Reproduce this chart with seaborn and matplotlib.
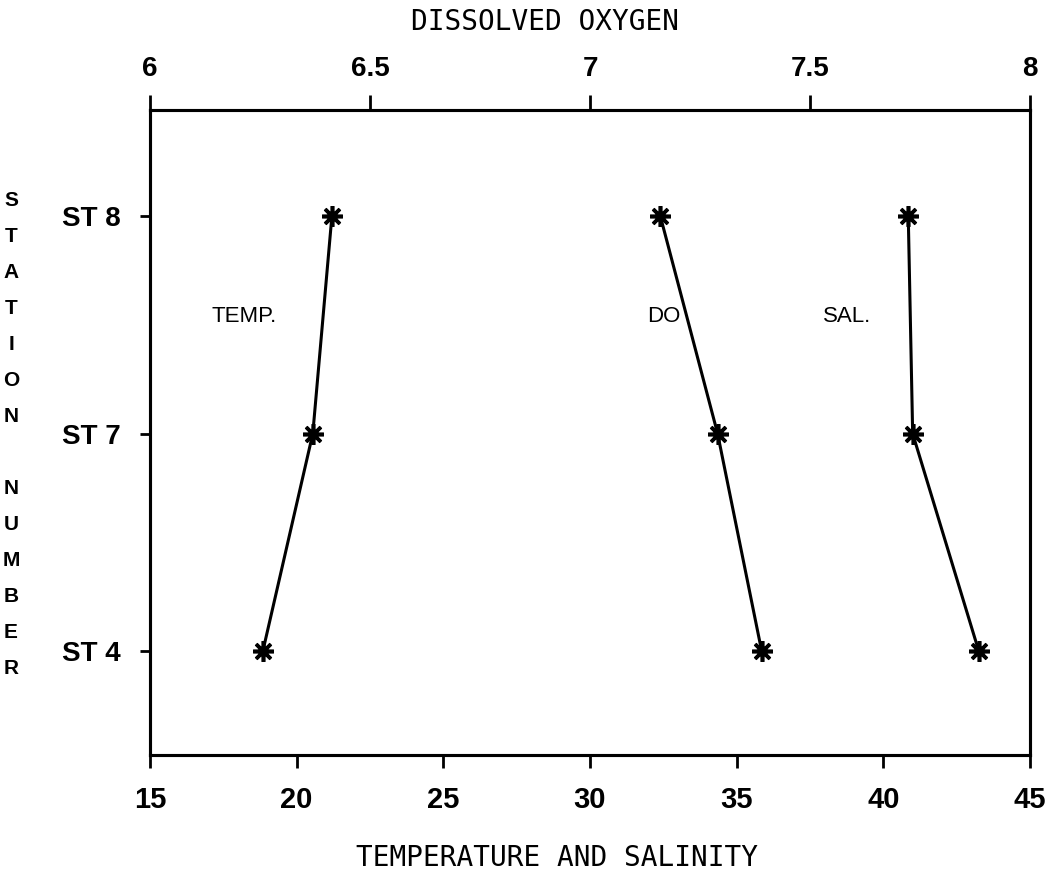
import matplotlib
matplotlib.use("Agg")
import matplotlib.pyplot as plt
import seaborn as sns
import numpy as np

# ---- data ----
stations = ["ST 8", "ST 7", "ST 4"]
temperature = [21.2, 20.55, 18.85]
salinity = [40.85, 41.0, 43.25]
dissolved_oxygen = [7.16, 7.29, 7.39]
bottom_ticks = [15, 20, 25, 30, 35, 40, 45]
top_ticks = [6, 6.5, 7, 7.5, 8]
top_tick_labels = ["6", "6.5", "7", "7.5", "8"]
ylabel_letters = list("STATION") + [""] + list("NUMBER")

sns.set_style("ticks")
plt.rcParams['font.family'] = ['Liberation Sans', 'DejaVu Sans']
plt.rcParams['text.color'] = 'black'
plt.rcParams['xtick.color'] = 'black'
plt.rcParams['ytick.color'] = 'black'
plt.rcParams['axes.labelcolor'] = 'black'

ypos = np.arange(len(stations))

fig = plt.figure(figsize=(10.57, 8.77), dpi=100)
ax = fig.add_axes([150/1057, 122/877, 880/1057, 645/877])

line_kw = dict(color="black", linewidth=2.2, marker=(8, 2, 0), markersize=15,
               markeredgewidth=2.6, markeredgecolor="black", sort=False,
               estimator=None)

sns.lineplot(x=temperature, y=ypos, ax=ax, **line_kw)
sns.lineplot(x=salinity, y=ypos, ax=ax, **line_kw)
ax.set_xlim(15, 45)
ax.set_ylim(2.48, -0.49)

ax2 = ax.twiny()
sns.lineplot(x=dissolved_oxygen, y=ypos, ax=ax2, **line_kw)
ax2.set_xlim(6, 8)
ax2.set_ylim(2.48, -0.49)

tick_font = dict(family=['Liberation Sans Narrow', 'Liberation Sans'], weight='bold', size=20,
                 color='black')

ax.set_xticks(bottom_ticks)
ax.set_xticklabels([str(t) for t in bottom_ticks], fontdict=dict(tick_font, size=21))
ax.set_yticks(ypos)
ax.set_yticklabels(stations, fontdict=tick_font)
ax2.set_xticks(top_ticks)
ax2.set_xticklabels(top_tick_labels, fontdict=tick_font)

ax.tick_params(axis='x', direction='out', length=9, width=2, pad=13, bottom=True, top=False)
ax.tick_params(axis='y', direction='out', length=7, width=2, pad=14, left=True, right=False)
ax2.tick_params(axis='x', direction='out', length=11, width=2, pad=9, top=True, bottom=False)

for a in (ax, ax2):
    a.set_xlabel("")
    a.set_ylabel("")
    for s in a.spines.values():
        s.set_linewidth(2.2)
        s.set_color("black")

# series labels
label_font = dict(family=['Liberation Sans', 'DejaVu Sans'], size=16, va='center', ha='left',
                  color='black')
ax.text(17.1, 0.46, "TEMP.", **label_font)
ax.text(31.95, 0.46, "DO", **label_font)
ax.text(37.95, 0.46, "SAL.", **label_font)

# axis titles
mono = ['DejaVu Sans Mono']
fig.text(545/1057, 1 - 22/877, "DISSOLVED OXYGEN", family=mono, size=20,
         ha='center', va='center', color='black')
fig.text(557/1057, 1 - 858/877, "TEMPERATURE AND SALINITY", family=mono, size=20,
         ha='center', va='center', color='black')

# stacked y label
y0 = 200
for i, ch in enumerate(ylabel_letters):
    if ch:
        fig.text(11/1057, 1 - (y0 + i*36)/877, ch, ha='center', va='center',
                 family=['Liberation Sans', 'DejaVu Sans'], weight='bold', size=15,
                 color='black')

fig.savefig("out.png", dpi=100, facecolor="white")
